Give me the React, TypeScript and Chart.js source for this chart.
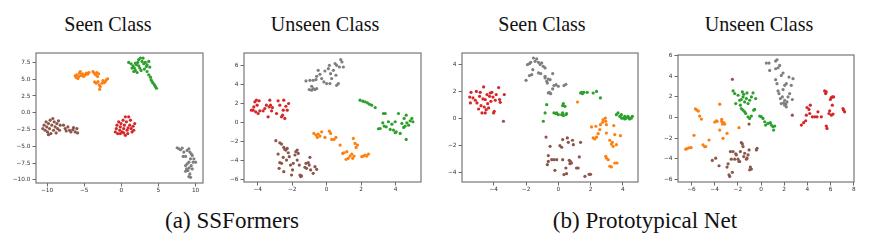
import React, { useEffect, useRef } from "react";
import { Chart, registerables } from "chart.js";

Chart.register(...registerables);

type Pt = [number, number];

// ---------- class colours (matplotlib tab10) ----------
const RED = "#d62728";
const ORANGE = "#ff7f0e";
const GREEN = "#2ca02c";
const BROWN = "#8c564b";
const GRAY = "#7f7f7f";

// ---------- (a) SSFormers, Seen Class ----------
const ssSeenOrange: Pt[] = [
  [-6.22, 5.5], [-6.08, 5.25], [-5.99, 5.65], [-5.86, 5.1], [-5.72, 5.4], [-5.63, 5.9], [-5.54, 6.15],
  [-5.41, 5.55], [-5.23, 5.8], [-5.09, 5.4], [-4.86, 5.65], [-4.73, 5.9], [-4.55, 5.75], [-4.37, 6.0],
  [-3.83, 6.15], [-3.65, 5.9], [-3.47, 5.65], [-3.29, 6.0], [-3.06, 5.8], [-3.2, 5.4], [-3.38, 4.4],
  [-3.15, 4.65], [-2.97, 4.15], [-2.84, 3.9], [-2.93, 3.5], [-2.61, 4.4], [-2.48, 4.8], [-2.3, 4.5],
  [-2.03, 4.9], [-1.85, 5.05], [-2.16, 4.65], [-3.6, 4.6],
];
const ssSeenGreen: Pt[] = [
  [0.99, 7.5], [1.31, 7.3], [1.58, 7.0], [1.76, 6.65], [1.89, 6.3], [2.12, 6.0], [1.67, 6.15], [2.03, 7.15],
  [2.21, 7.5], [2.34, 7.9], [2.57, 8.15], [2.79, 7.65], [2.93, 8.15], [3.02, 7.3], [3.24, 7.5], [3.38, 6.9],
  [3.47, 7.15], [3.69, 7.65], [3.83, 6.8], [2.48, 6.65], [2.66, 6.3], [3.11, 6.5], [2.34, 7.0], [1.44, 6.65],
  [1.89, 7.4], [3.69, 5.65], [3.92, 5.3], [4.01, 4.9], [4.14, 4.65], [4.28, 4.4], [4.46, 4.15], [4.59, 3.9],
  [4.73, 3.65], [3.47, 6.15],
];
const ssSeenRed: Pt[] = [
  [-0.81, -2.85], [-0.68, -2.35], [-0.59, -1.85], [-0.5, -3.1], [-0.36, -1.35], [-0.23, -2.6], [-0.14, -2.1],
  [-0.05, -1.6], [0.09, -2.85], [0.23, -1.1], [0.32, -2.35], [0.41, -1.85], [0.54, -0.6], [0.68, -1.35],
  [0.77, -2.6], [0.86, -3.1], [0.99, -0.6], [1.13, -1.85], [1.22, -1.1], [1.31, -2.35], [1.44, -2.85],
  [1.58, -2.0], [1.67, -2.6], [1.8, -1.6], [0.54, -3.35], [-0.14, -3.1], [0.9, -2.25], [0.32, -3.0],
];
const ssSeenBrown: Pt[] = [
  [-10.59, -2.35], [-10.41, -1.85], [-10.27, -2.6], [-10.14, -1.35], [-10.05, -2.1], [-9.95, -2.85],
  [-9.82, -1.6], [-9.68, -2.35], [-9.59, -1.1], [-9.5, -3.1], [-9.37, -1.85], [-9.23, -0.85], [-9.14, -2.6],
  [-9.05, -1.35], [-8.92, -2.1], [-8.78, -3.0], [-8.69, -1.6], [-8.6, -2.35], [-8.47, -1.2], [-8.33, -2.6],
  [-8.24, -1.85], [-9.82, -3.25], [-7.79, -1.85], [-7.57, -2.35], [-7.43, -2.7], [-7.21, -2.1], [-6.98, -2.6],
  [-6.8, -2.85], [-6.53, -2.5], [-6.22, -2.85], [-5.99, -2.35], [-5.9, -3.0], [-6.44, -2.2],
];
const ssSeenGray: Pt[] = [
  [7.52, -5.2], [7.75, -5.35], [7.97, -5.5], [8.2, -5.25], [8.42, -5.85], [8.65, -6.5], [8.33, -6.5],
  [8.87, -5.6], [9.1, -5.35], [9.23, -5.85], [9.41, -6.1], [9.55, -6.35], [9.32, -6.85], [9.1, -7.35],
  [8.87, -7.6], [8.65, -7.85], [8.78, -8.35], [8.96, -8.6], [9.14, -8.2], [9.41, -7.85], [9.68, -7.35],
  [10.0, -7.35], [9.55, -8.35], [9.23, -9.1], [9.1, -9.5], [9.32, -9.6], [8.65, -8.7], [9.77, -6.85],
];

// ---------- (a) SSFormers, Unseen Class ----------
const ssUnseenGray: Pt[] = [
  [-1.2, 4.42], [-0.97, 4.49], [-0.87, 3.86], [-0.78, 4.49], [-0.62, 4.56], [-0.58, 4.91], [-0.49, 5.54],
  [-0.39, 5.12], [-0.29, 4.67], [-0.1, 5.47], [0, 4.14], [0.1, 5.72], [0.16, 6.07], [0.23, 5.19], [0.29, 4.67],
  [0.39, 5.54], [0.49, 6.25], [0.54, 5.02], [0.58, 3.96], [0.68, 4.14], [0.74, 5.89], [0.82, 6.67],
  [0.89, 6.42], [0.97, 5.89], [0.58, 6.07], [-1.01, 3.51], [-0.87, 3.44], [-0.68, 3.51], [-0.58, 3.61],
  [-0.78, 3.61], [0.19, 4.14], [-0.16, 4.32],
];
const ssUnseenRed: Pt[] = [
  [-4.37, 1.33], [-4.27, 1.33], [-4.23, 1.68], [-4.17, 2.21], [-4.12, 1.16], [-4.08, 2.39], [-4.04, 1.86],
  [-3.98, 0.98], [-3.92, 2.32], [-3.88, 1.26], [-3.69, 1.26], [-3.59, 1.51], [-3.5, 1.86], [-3.4, 0.63],
  [-3.34, 1.68], [-3.3, 2.39], [-3.26, 1.86], [-3.2, 1.26], [-2.91, 0.98], [-2.82, 2.32], [-2.72, 1.86],
  [-2.62, 0.63], [-2.52, 1.33], [-2.49, 2.39], [-2.43, 0.46], [-2.37, 1.75], [-2.29, 1.33], [-2.21, 2.04],
  [-2.56, 0.81], [-3.15, 1.61],
];
const ssUnseenGreen: Pt[] = [
  [1.94, 2.39], [2.1, 2.28], [2.23, 2.21], [2.37, 2.11], [2.49, 1.96], [2.62, 1.86], [2.82, 1.61],
  [3.01, -0.63], [3.11, -0.6], [3.3, 0.98], [3.4, 0.98], [3.26, 0], [3.34, -0.35], [3.46, -0.42], [3.59, 0.11],
  [3.69, -0.7], [3.79, -0.14], [3.88, -0.77], [3.98, 0.11], [4.04, -0.95], [4.17, 0.98], [4.27, -1.12],
  [4.37, -0.07], [4.47, -0.49], [4.5, 0.46], [4.56, -0.35], [4.62, 0.81], [4.66, 0], [4.76, -0.25],
  [4.85, 0.21], [4.95, 0.46], [5.01, 0.11], [4.62, -1.75], [3.98, -1.05],
];
const ssUnseenOrange: Pt[] = [
  [-0.74, -1.12], [-0.62, -1.3], [-0.54, -1.54], [-0.49, -1.19], [-0.39, -1.4], [-0.29, -0.95], [-0.1, -1.54],
  [0.16, -0.88], [0.23, -1.12], [0.29, -1.75], [0.43, -1.75], [0.54, -1.54], [0.78, -2.35], [0.93, -3.23],
  [1.01, -3.16], [1.13, -3.86], [1.26, -3.75], [1.36, -3.51], [1.46, -3.3], [1.51, -3.75], [1.59, -3.51],
  [1.55, -1.65], [1.65, -2.18], [1.71, -2.6], [1.79, -2.35], [2.04, -3.58], [2.14, -3.51], [2.23, -3.4],
  [2.33, -3.51], [1.17, -3.05], [2.43, -3.3],
];
const ssUnseenBrown: Pt[] = [
  [-2.95, -1.89], [-2.72, -2.11], [-2.62, -2.25], [-2.49, -2.6], [-2.43, -2.81], [-2.37, -2.88], [-2.29, -2.7],
  [-2.82, -3.3], [-2.72, -4.21], [-2.76, -4.81], [-2.62, -4.28], [-2.52, -3.65], [-2.49, -5.16], [-2.33, -3.93],
  [-2.23, -3.16], [-2.17, -3.58], [-2.1, -4.46], [-2.04, -5.51], [-1.98, -4.98], [-1.94, -4.28], [-1.84, -3.4],
  [-1.79, -3.05], [-1.71, -3.93], [-1.65, -3.23], [-1.59, -4.46], [-1.55, -5.51], [-1.51, -5.68], [-1.46, -5.61],
  [-1.26, -4.7], [-1.2, -4.28], [-1.17, -4.81], [-1.07, -4.21], [-1.01, -4.46], [-0.93, -4.98], [-0.78, -5.33],
  [-0.68, -4.63], [-0.58, -4.91], [-0.97, -3.65], [-1.71, -2.88],
];

// ---------- (b) Prototypical Net, Seen Class ----------
const ptSeenRed: Pt[] = [
  [-5.49, 1.58], [-5.41, 1.93], [-5.45, 1.14], [-5.29, 1.51], [-5.14, 1.34], [-5.08, 2.0], [-5.04, 1.14],
  [-4.94, 0.69], [-4.88, 1.63], [-4.84, 1.93], [-4.79, 0.94], [-4.73, 0.4], [-4.67, 1.44], [-4.63, 2.33],
  [-4.59, 0.84], [-4.53, 1.39], [-4.47, 0.64], [-4.42, 1.76], [-4.38, 1.09], [-4.32, 0.77], [-4.26, 1.63],
  [-4.22, 1.88], [-4.18, 1.26], [-4.12, 1.93], [-4.05, 1.58], [-4.01, 0.4], [-3.97, 0.52], [-3.91, 1.34],
  [-3.85, 1.76], [-3.7, 2.28], [-3.64, 1.39], [-3.6, 1.19], [-3.35, 1.76], [-4.53, 0.4],
];
const ptSeenGray: Pt[] = [
  [-2.0, 2.82], [-1.91, 3.99], [-1.79, 4.06], [-1.71, 4.16], [-1.79, 3.17], [-1.65, 3.24], [-1.54, 4.48],
  [-1.44, 4.23], [-1.34, 4.41], [-1.23, 4.16], [-1.13, 3.99], [-1.03, 4.11], [-0.93, 3.86], [-0.82, 3.74],
  [-1.23, 3.37], [-1.09, 3.32], [-0.82, 3.0], [-0.72, 2.75], [-0.68, 2.62], [-0.62, 2.92], [-0.51, 2.87],
  [-0.35, 3.32], [-0.56, 1.93], [-0.62, 1.88], [-0.47, 1.83], [-0.35, 2.18], [-0.27, 2.43], [-0.14, 2.5],
  [0, 2.38], [0.35, 2.43], [0.47, 2.52], [-0.82, 3.12], [-1.58, 3.61],
];
const ptSeenGreen: Pt[] = [
  [1.38, 1.88], [1.44, 1.93], [1.5, 1.83], [1.58, 1.93], [1.79, 1.93], [2.16, 1.88], [2.37, 2.0], [2.61, 1.51],
  [-0.93, -0.22], [-0.82, 0.4], [-0.72, 1.01], [-0.27, 0.4], [-0.14, 0.35], [-0.1, 0.4], [0, 0.27],
  [0.21, 0.27], [0.27, 0.4], [0.31, 0.2], [0.27, 0.94], [0.31, 1.09], [0.41, 0.89], [0.47, 0.27], [0.51, 0.35],
  [3.6, 0.27], [3.7, 0.4], [3.81, 0.15], [3.91, 0.02], [4.01, 0.02], [4.12, -0.05], [4.22, 0.02], [4.32, 0.15],
  [4.38, 0.02], [4.42, -0.05], [4.53, 0.02], [4.59, 0.15], [3.91, 0.27], [4.12, 0.15],
];
const ptSeenOrange: Pt[] = [
  [1.19, 1.21], [2.06, -0.64], [2.33, -0.59], [2.16, -1.46], [2.26, -1.53], [2.37, -1.39], [2.47, -1.14],
  [2.57, -0.84], [2.61, -0.47], [2.74, -0.3], [2.92, 0.02], [2.94, -0.22], [2.98, -0.47], [2.98, -1.09],
  [3.19, -1.63], [3.29, -1.91], [3.4, -2.08], [3.35, -1.78], [3.5, -1.21], [3.6, -1.96], [3.85, -1.29],
  [2.94, -2.82], [2.98, -2.95], [3.09, -3.07], [3.19, -3.56], [3.29, -3.61], [3.5, -3.32], [3.64, -3.32],
  [3.44, -0.54], [2.78, -0.1],
];
const ptSeenBrown: Pt[] = [
  [-3.4, -0.22], [-0.76, -1.39], [-0.62, -2.77], [-0.68, -3.44], [-0.41, -3.07], [-0.51, -2.08], [-0.27, -3.07],
  [-0.21, -3.86], [-0.1, -3.07], [0.1, -2.03], [0.21, -2.15], [0.27, -3.07], [0.35, -4.18], [0.47, -3.69],
  [0.56, -1.46], [0.62, -1.78], [0.68, -3.12], [0.72, -3.37], [0.82, -3.32], [0.88, -1.63], [0.93, -1.96],
  [1.13, -3.69], [1.23, -3.69], [1.3, -2.87], [1.38, -1.78], [1.65, -4.31], [1.91, -4.16], [2.0, -4.16],
  [0.27, -1.58], [0.51, -4.11], [-0.62, -3.2], [0.75, -3.2],
];

// ---------- (b) Prototypical Net, Unseen Class ----------
const ptUnseenGray: Pt[] = [
  [0.46, 5.25], [0.69, 5.25], [0.75, 4.54], [1.26, 5.44], [1.38, 5.57], [1.26, 4.7], [1.47, 4.8], [1.61, 5.02],
  [1.75, 4.06], [1.9, 4.29], [2.04, 3.1], [2.18, 3.26], [2.41, 3.9], [2.61, 3.1], [2.76, 3.74], [1.26, 3.65],
  [1.38, 3.26], [1.47, 2.56], [1.55, 2.3], [1.67, 1.82], [1.84, 1.98], [1.95, 1.41], [2.04, 1.18], [2.13, 1.28],
  [2.18, 1.02], [2.24, 1.5], [2.33, 1.98], [2.47, 2.3], [2.7, 1.73], [2.04, 1.66], [1.75, 1.34], [1.9, 2.69],
];
const ptUnseenRed: Pt[] = [
  [3.48, -0.74], [3.68, -0.51], [3.85, -0.32], [3.91, 0.22], [3.97, 0.96], [4.14, 0.77], [4.2, 0.38],
  [4.25, 1.18], [4.43, 0.06], [4.63, 0.06], [4.83, 0.06], [4.91, 0.54], [5.2, 0.06], [5.49, 2.56], [5.63, 2.46],
  [5.57, 2.3], [5.86, 0.38], [5.92, 0.64], [5.98, 1.73], [6.06, 1.92], [6.15, 1.98], [6.21, 0.32], [6.26, 1.98],
  [6.15, 1.18], [5.63, -0.83], [5.69, -1.06], [6.06, 0.22], [7.07, 0.86], [7.13, 0.7], [7.21, 0.54],
];
const ptUnseenGreen: Pt[] = [
  [-2.41, 2.56], [-2.27, 2.3], [-2.18, 1.34], [-1.98, 2.14], [-1.84, 1.66], [-1.78, 1.18], [-1.7, 1.73],
  [-1.61, 2.46], [-1.55, 1.98], [-1.49, 2.24], [-1.41, 1.5], [-1.26, 1.82], [-1.21, 2.37], [-1.12, 1.34],
  [-0.98, 1.66], [-0.83, 1.98], [-0.69, 2.37], [-0.63, 0.7], [-0.55, 0.77], [-0.46, 1.82], [-1.55, 0.7],
  [-1.41, 0.54], [-1.32, 0.38], [-1.12, 0.06], [-0.98, -0.1], [-0.83, 0.13], [-0.11, 0.13], [0.03, 0.06],
  [0.17, -0.1], [0.32, -0.42], [0.4, -0.74], [0.6, -0.58], [0.8, -0.51], [0.89, -0.74], [1.03, -0.9],
  [1.09, -1.22], [1.18, -0.83], [-1.7, 0.86],
];
const ptUnseenBrown: Pt[] = [
  [-2.47, 3.68], [-1.03, -0.64], [2.7, 0.22], [-4.2, -4.16], [-3.91, -3.94], [-3.62, -4.67], [-2.93, -4.8],
  [-2.84, -4.48], [-2.76, -5.54], [-2.7, -5.7], [-2.64, -3.3], [-2.56, -4.03], [-2.47, -5.31], [-2.41, -3.3],
  [-2.27, -4.03], [-2.18, -3.52], [-2.13, -3.62], [-1.98, -4.03], [-1.9, -4.26], [-1.78, -3.3], [-1.7, -2.43],
  [-1.61, -2.56], [-1.55, -2.82], [-1.41, -3.46], [-1.26, -4.03], [-1.21, -3.94], [-1.12, -3.62], [-1.03, -3.14],
  [-0.92, -4.8], [-0.83, -4.99], [-0.98, -5.06], [-0.4, -3.14], [-0.34, -2.98], [-1.84, -4.26], [-1.49, -3.78],
];
const ptUnseenOrange: Pt[] = [
  [-6.49, -3.07], [-6.38, -3.01], [-6.21, -2.94], [-6.03, -2.91], [-5.78, -1.73], [-5.66, 0.83], [-5.52, 0.7],
  [-5.4, 0.61], [-5.29, 0.13], [-5.14, -0.16], [-5.0, -2.66], [-4.86, -2.82], [-4.77, -2.82], [-4.48, -2.18],
  [-3.99, -0.45], [-3.85, -0.32], [-3.79, -0.38], [-3.56, 1.28], [-3.56, -1.22], [-3.39, -0.19], [-3.33, -0.64],
  [-3.22, -0.51], [-3.13, -0.64], [-3.28, -2.02], [-2.93, -1.54], [-1.9, -0.99], [-3.39, -0.38],
];

// ---------- texts ----------
const panelTitles = ["Seen Class", "Unseen Class", "Seen Class", "Unseen Class"];
const captions = ["(a) SSFormers", "(b) Prototypical Net"];

// ---------- axes (ranges / tick steps) ----------
const xMins = [-11.5, -4.8, -5.97, -7.16];
const xMaxs = [11.0, 5.48, 4.94, 8.02];
const xSteps = [5, 2, 2, 2];
const yMins = [-10.45, -6.25, -4.73, -6.24];
const yMaxs = [8.9, 7.37, 4.85, 6.03];
const ySteps = [2.5, 2, 2, 2];
const yDecimals = [1, 0, 0, 0];

const panelSeries: { data: Pt[]; color: string }[][] = [
  [
    { data: ssSeenRed, color: RED },
    { data: ssSeenOrange, color: ORANGE },
    { data: ssSeenGreen, color: GREEN },
    { data: ssSeenBrown, color: BROWN },
    { data: ssSeenGray, color: GRAY },
  ],
  [
    { data: ssUnseenRed, color: RED },
    { data: ssUnseenOrange, color: ORANGE },
    { data: ssUnseenGreen, color: GREEN },
    { data: ssUnseenBrown, color: BROWN },
    { data: ssUnseenGray, color: GRAY },
  ],
  [
    { data: ptSeenRed, color: RED },
    { data: ptSeenOrange, color: ORANGE },
    { data: ptSeenGreen, color: GREEN },
    { data: ptSeenBrown, color: BROWN },
    { data: ptSeenGray, color: GRAY },
  ],
  [
    { data: ptUnseenRed, color: RED },
    { data: ptUnseenOrange, color: ORANGE },
    { data: ptUnseenGreen, color: GREEN },
    { data: ptUnseenBrown, color: BROWN },
    { data: ptUnseenGray, color: GRAY },
  ],
];

// ---------- layout (plot-box pixel frames) ----------
const boxes = [
  { l: 36, t: 53, r: 203, b: 183 },
  { l: 244, t: 53, r: 421, b: 182 },
  { l: 462, t: 53, r: 638, b: 182 },
  { l: 678, t: 55, r: 854, b: 182 },
];
const titleCenters = [108, 325, 542, 759];
const captionCenters = [232, 645];

const Y_AXIS_W = 34;
const X_AXIS_H = 14;
const PAD_TOP = 6;
const PAD_RIGHT = 8;

const fmt = (v: number, d: number) => {
  const r = Math.round(v * 1000) / 1000;
  const s = Math.abs(r).toFixed(d);
  return (r < -1e-9 ? "\u2212" : "") + s;
};

const frame = {
  id: "frameBox",
  afterDatasetsDraw(chart: any) {
    const { ctx, chartArea } = chart;
    ctx.save();
    ctx.strokeStyle = "#777777";
    ctx.lineWidth = 1.2;
    ctx.strokeRect(chartArea.left, chartArea.top, chartArea.right - chartArea.left, chartArea.bottom - chartArea.top);
    ctx.restore();
  },
};

function Panel({ i }: { i: number }) {
  const ref = useRef<HTMLCanvasElement | null>(null);
  const box = boxes[i];
  const w = box.r - box.l + Y_AXIS_W + PAD_RIGHT;
  const h = box.b - box.t + PAD_TOP + X_AXIS_H;

  useEffect(() => {
    if (!ref.current) return;
    const tickFont = { family: "'DejaVu Sans', sans-serif", size: 5.8 };
    const chart = new Chart(ref.current, {
      type: "scatter",
      data: {
        datasets: panelSeries[i].map((s) => ({
          data: s.data.map(([x, y]) => ({ x, y })),
          backgroundColor: s.color,
          borderWidth: 0,
          pointRadius: 1.6,
          pointHoverRadius: 1.6,
        })),
      },
      options: {
        animation: false,
        responsive: false,
        maintainAspectRatio: false,
        events: [],
        layout: { padding: { left: 0, top: PAD_TOP, right: PAD_RIGHT, bottom: 0 } },
        plugins: { legend: { display: false }, tooltip: { enabled: false }, title: { display: false } },
        scales: {
          x: {
            type: "linear",
            min: xMins[i],
            max: xMaxs[i],
            border: { display: false },
            grid: { display: true, drawOnChartArea: false, drawTicks: true, tickLength: 3.5, tickColor: "#444", tickWidth: 0.8 },
            ticks: {
              stepSize: xSteps[i],
              includeBounds: false,
              autoSkip: false,
              maxRotation: 0,
              padding: 1,
              color: "#333",
              font: tickFont,
              callback: (v: any) => fmt(Number(v), 0),
            },
            afterFit: (scale: any) => {
              scale.height = X_AXIS_H;
            },
          },
          y: {
            type: "linear",
            min: yMins[i],
            max: yMaxs[i],
            border: { display: false },
            grid: { display: true, drawOnChartArea: false, drawTicks: true, tickLength: 3.5, tickColor: "#444", tickWidth: 0.8 },
            ticks: {
              stepSize: ySteps[i],
              includeBounds: false,
              autoSkip: false,
              padding: 2,
              color: "#333",
              font: tickFont,
              callback: (v: any) => fmt(Number(v), yDecimals[i]),
            },
            afterFit: (scale: any) => {
              scale.width = Y_AXIS_W;
            },
          },
        },
      },
      plugins: [frame],
    } as any);
    return () => chart.destroy();
  }, [i]);

  return (
    <canvas
      ref={ref}
      width={w}
      height={h}
      style={{ position: "absolute", left: box.l - Y_AXIS_W, top: box.t - PAD_TOP, width: w, height: h }}
    />
  );
}

export default function App() {
  return (
    <div style={{ position: "absolute", left: 0, top: 0, width: 872, height: 240, background: "#fff", overflow: "hidden" }}>
      {panelTitles.map((t, i) => (
        <div
          key={"t" + i}
          style={{
            position: "absolute",
            left: titleCenters[i] - 100,
            top: 12.6,
            width: 200,
            textAlign: "center",
            fontFamily: "'Liberation Serif', 'Times New Roman', serif",
            fontSize: 22,
            lineHeight: "22px",
            color: "#111",
            transform: "scaleX(0.91)",
            whiteSpace: "nowrap",
          }}
        >
          {t}
        </div>
      ))}
      {[0, 1, 2, 3].map((i) => (
        <Panel key={i} i={i} />
      ))}
      {captions.map((c, i) => (
        <div
          key={"c" + i}
          style={{
            position: "absolute",
            left: captionCenters[i] - 150,
            top: 208.4,
            width: 300,
            textAlign: "center",
            fontFamily: "'Liberation Serif', 'Times New Roman', serif",
            fontSize: 24,
            lineHeight: "24px",
            color: "#111",
            transform: "scaleX(0.96)",
            whiteSpace: "nowrap",
          }}
        >
          {c}
        </div>
      ))}
    </div>
  );
}
